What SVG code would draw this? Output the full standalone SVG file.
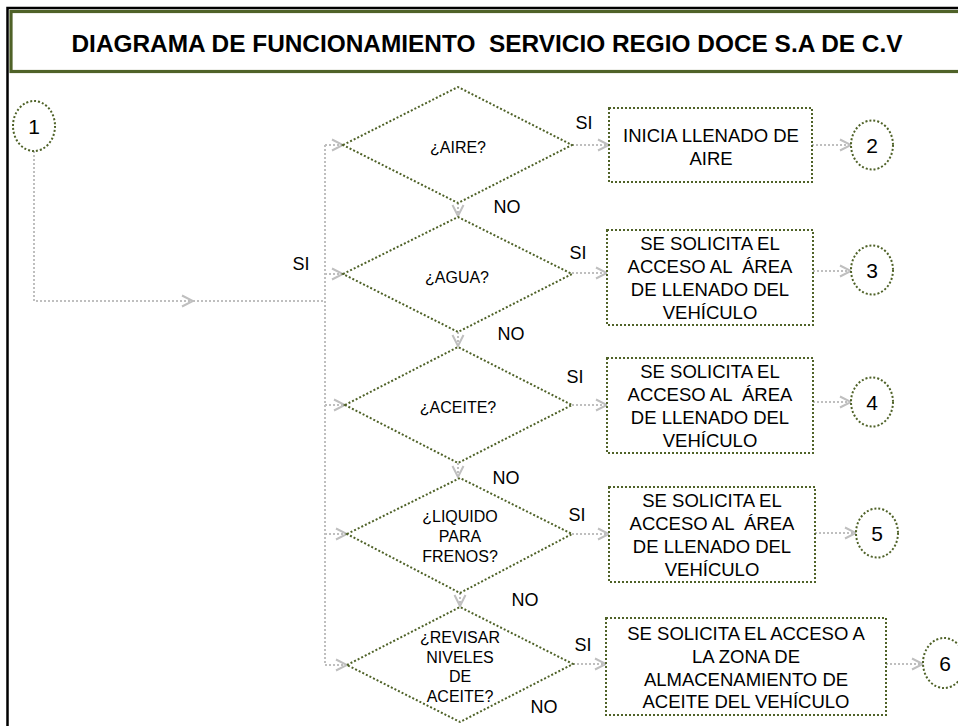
<svg xmlns="http://www.w3.org/2000/svg" width="958" height="726" viewBox="0 0 958 726">
<defs>
<marker id="arr" viewBox="-1 -7 14 14" refX="11" refY="0" markerWidth="14" markerHeight="14" markerUnits="userSpaceOnUse" orient="auto">
<path d="M0,-5.5 L11,0 L0,5.5" fill="none" stroke="#bfbfbf" stroke-width="2"/>
</marker>
</defs>
<style>
.shape{fill:#fff;stroke:#4f6228;stroke-width:2;stroke-dasharray:2 2}
.conn{fill:none;stroke:#bfbfbf;stroke-width:2;stroke-dasharray:2 2}
.arr{marker-end:url(#arr)}
text{font-family:"Liberation Sans",Arial,sans-serif;fill:#000;white-space:pre}
.q{font-size:16px;text-anchor:middle}
.b{font-size:18.5px;text-anchor:middle}
.lbl{font-size:18px;text-anchor:middle}
.num{font-size:21px;text-anchor:middle}
</style>
<rect x="0" y="0" width="958" height="726" fill="#fff"/>
<path d="M7.5,726 V8 H958" fill="none" stroke="#000" stroke-width="2.5"/>
<g id="title">
<rect x="11" y="11.5" width="960" height="60" fill="#fff" stroke="#4f6228" stroke-width="3.2"/>
<text x="487" y="52" font-size="24" font-weight="bold" text-anchor="middle" textLength="831" lengthAdjust="spacingAndGlyphs" xml:space="preserve">DIAGRAMA DE FUNCIONAMIENTO  SERVICIO REGIO DOCE S.A DE C.V</text>
</g>
<g id="connectors">
<path class="conn arr" d="M34,151 V301 H193"/>
<path class="conn" d="M193,301 H325"/>
<path class="conn" d="M325,145 V665"/>
<path class="conn arr" d="M325,145 H343"/>
<path class="conn arr" d="M325,274 H343"/>
<path class="conn arr" d="M325,405 H345"/>
<path class="conn arr" d="M325,534 H347"/>
<path class="conn arr" d="M325,665 H347"/>
<path class="conn arr" d="M458,203 V216"/>
<path class="conn arr" d="M458,332 V346"/>
<path class="conn arr" d="M458,463 V477"/>
<path class="conn arr" d="M460,593 V606"/>
<path class="conn arr" d="M572,145 H609"/>
<path class="conn arr" d="M572,273 H607"/>
<path class="conn arr" d="M572,405 H607"/>
<path class="conn arr" d="M572,534 H609"/>
<path class="conn arr" d="M573,664 H606"/>
<path class="conn arr" d="M812,145 H851"/>
<path class="conn arr" d="M813,271 H851"/>
<path class="conn arr" d="M813,402 H851"/>
<path class="conn arr" d="M815,533 H856"/>
<path class="conn arr" d="M886,664 H923"/>
</g>
<g id="c1"><ellipse class="shape" cx="34" cy="126" rx="21" ry="25"/><text class="num" x="34" y="134">1</text></g>
<g id="d1"><polygon class="shape" points="343,145 458,87 572,145 458,203"/><text class="q" x="458" y="153">¿AIRE?</text></g>
<g id="d2"><polygon class="shape" points="343,274 458,217 572,274 458,332"/><text class="q" x="457" y="283">¿AGUA?</text></g>
<g id="d3"><polygon class="shape" points="345,405 458,347 572,405 458,463"/><text class="q" x="458" y="413">¿ACEITE?</text></g>
<g id="d4"><polygon class="shape" points="347,534 460,478 572,534 460,593"/><text class="q" x="460" y="522">¿LIQUIDO</text><text class="q" x="460" y="542">PARA</text><text class="q" x="460" y="562">FRENOS?</text></g>
<g id="d5"><polygon class="shape" points="347,665 460,607 573,664 460,722"/><text class="q" x="460" y="643">¿REVISAR</text><text class="q" x="460" y="663">NIVELES</text><text class="q" x="460" y="682">DE</text><text class="q" x="460" y="702">ACEITE?</text></g>
<g id="b1"><rect class="shape" x="609" y="108" width="203" height="74"/><text class="b" x="711" y="142">INICIA LLENADO DE</text><text class="b" x="711" y="165">AIRE</text></g>
<g id="b2"><rect class="shape" x="607" y="230" width="206" height="95"/><text class="b" x="710" y="250">SE SOLICITA EL</text><text class="b" x="710" y="273" xml:space="preserve">ACCESO AL  ÁREA</text><text class="b" x="710" y="296">DE LLENADO DEL</text><text class="b" x="710" y="319">VEHÍCULO</text></g>
<g id="b3"><rect class="shape" x="607" y="358" width="206" height="95"/><text class="b" x="710" y="378">SE SOLICITA EL</text><text class="b" x="710" y="401" xml:space="preserve">ACCESO AL  ÁREA</text><text class="b" x="710" y="424">DE LLENADO DEL</text><text class="b" x="710" y="447">VEHÍCULO</text></g>
<g id="b4"><rect class="shape" x="609" y="487" width="206" height="95"/><text class="b" x="712" y="507">SE SOLICITA EL</text><text class="b" x="712" y="530" xml:space="preserve">ACCESO AL  ÁREA</text><text class="b" x="712" y="553">DE LLENADO DEL</text><text class="b" x="712" y="576">VEHÍCULO</text></g>
<g id="b5"><rect class="shape" x="606" y="618" width="280" height="97"/><text class="b" x="746" y="640">SE SOLICITA EL ACCESO A</text><text class="b" x="746" y="663">LA ZONA DE</text><text class="b" x="746" y="686">ALMACENAMIENTO DE</text><text class="b" x="746" y="708">ACEITE DEL VEHÍCULO</text></g>
<g id="c2"><ellipse class="shape" cx="872" cy="145" rx="21" ry="24.5"/><text class="num" x="872" y="153">2</text></g>
<g id="c3"><ellipse class="shape" cx="872" cy="270" rx="21" ry="24.5"/><text class="num" x="872" y="278">3</text></g>
<g id="c4"><ellipse class="shape" cx="872" cy="402" rx="21" ry="24.5"/><text class="num" x="872" y="410">4</text></g>
<g id="c5"><ellipse class="shape" cx="877" cy="533" rx="21" ry="24.5"/><text class="num" x="877" y="541">5</text></g>
<g id="c6"><ellipse class="shape" cx="944" cy="663" rx="21" ry="25"/><text class="num" x="945" y="671">6</text></g>
<g id="labels">
<text class="lbl" x="584" y="129">SI</text>
<text class="lbl" x="578" y="259">SI</text>
<text class="lbl" x="575" y="383">SI</text>
<text class="lbl" x="577" y="521">SI</text>
<text class="lbl" x="583" y="651">SI</text>
<text class="lbl" x="301" y="270">SI</text>
<text class="lbl" x="507" y="213">NO</text>
<text class="lbl" x="511" y="340">NO</text>
<text class="lbl" x="506" y="484">NO</text>
<text class="lbl" x="525" y="606">NO</text>
<text class="lbl" x="544" y="713">NO</text>
</g>
</svg>
